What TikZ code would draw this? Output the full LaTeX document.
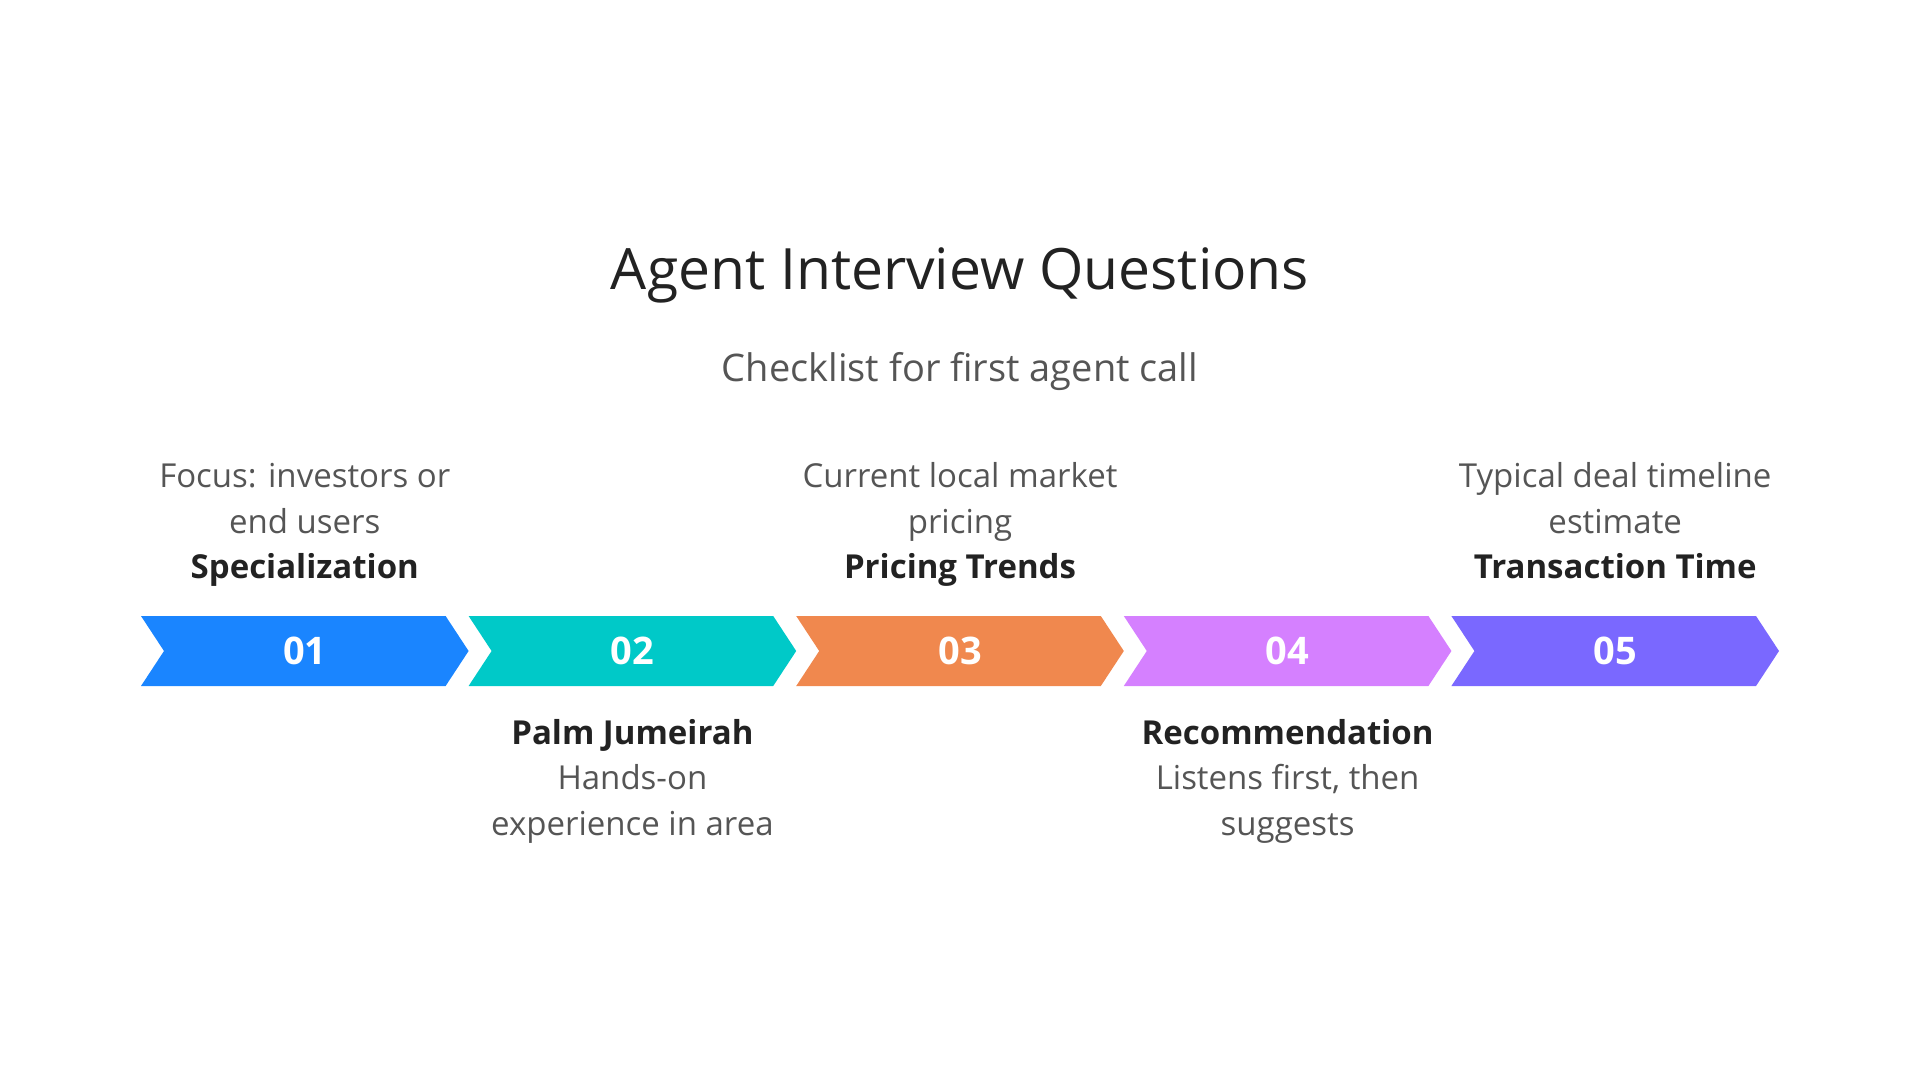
\documentclass[tikz,border=0pt]{standalone}
\usepackage{fontspec}
\setmainfont{Open Sans}
\usepackage{xcolor}
\usetikzlibrary{positioning, shapes.symbols}
\definecolor{stepblue}{HTML}{1A85FF}
\definecolor{stepteal}{HTML}{00C9C8}
\definecolor{steporange}{HTML}{F0884E}
\definecolor{stepviolet}{HTML}{D580FF}
\definecolor{steppurple}{HTML}{7A68FF}
\definecolor{textdark}{HTML}{222222}
\definecolor{textgray}{HTML}{555555}
\tikzstyle{chevron} = [signal, signal from=west, signal to=east, signal pointer angle=113.4, minimum width=163.8pt, minimum height=35pt, inner sep=0pt, fill=stepblue, text=white, font=\fontsize{19}{19}\selectfont\bfseries]
\tikzstyle{stepnote} = [align=center, inner sep=0pt, text=textgray, font=\fontsize{16.5}{22.75}\selectfont]

\begin{document}
\begin{tikzpicture}[x=0.5pt, y=-0.5pt,
    heading/.style={anchor=base, text=textdark, font=\fontsize{28.5}{32}\selectfont},
    subheading/.style={anchor=base, text=textgray, font=\fontsize{19}{23}\selectfont}]
    \useasboundingbox (0,0) rectangle (1920,1080);

    % Title block
    \node[heading] (title) at (960,290) {Agent Interview Questions};
    \node[subheading] (subtitle) at (960,381) {Checklist for first agent call};

    % Chevron row
    \foreach \num/\col [count=\i] in {01/stepblue, 02/stepteal, 03/steporange, 04/stepviolet, 05/steppurple}
        \node[chevron, fill=\col] (step\i) at ({960+327.6*(\i-3)},651) {\num};

    % Notes above (odd steps)
    \node[stepnote, above=11.5pt of step1] (note1) {Focus: investors or\\end users\\\textcolor{textdark}{\bfseries Specialization}\strut};
    \node[stepnote, above=11.5pt of step3] (note3) {Current local market\\pricing\\\textcolor{textdark}{\bfseries Pricing Trends}\strut};
    \node[stepnote, above=11.5pt of step5] (note5) {Typical deal timeline\\estimate\\\textcolor{textdark}{\bfseries Transaction Time}\strut};

    % Notes below (even steps)
    \node[stepnote, below=12.75pt of step2] (note2) {\strut\textcolor{textdark}{\bfseries Palm Jumeirah}\\Hands-on\\experience in area};
    \node[stepnote, below=12.75pt of step4] (note4) {\strut\textcolor{textdark}{\bfseries Recommendation}\\Listens first, then\\suggests};

\end{tikzpicture}
\end{document}
